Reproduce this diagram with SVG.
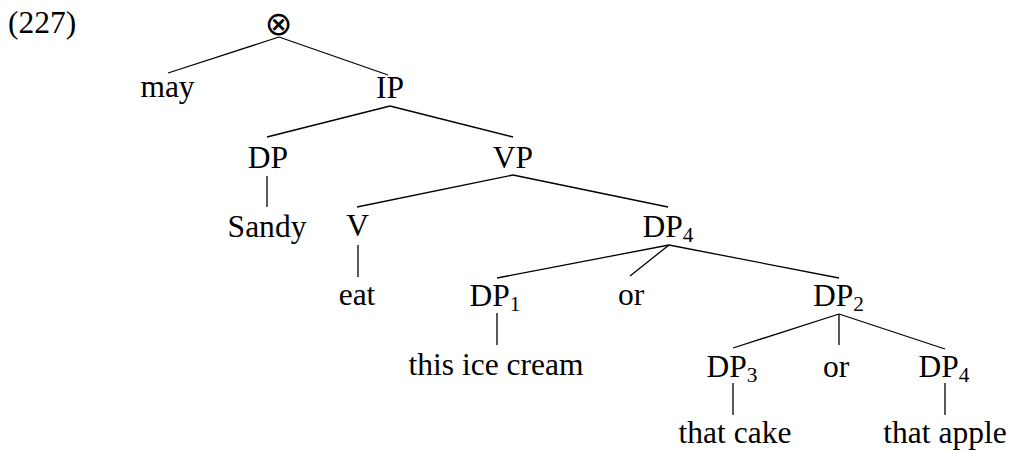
<svg xmlns="http://www.w3.org/2000/svg" width="1009" height="451" viewBox="0 0 1009 451">
<style>
text{font-family:"Liberation Serif","Times New Roman",serif;font-size:32.5px;fill:#000;text-anchor:middle}
.l{text-anchor:start}
.sub{font-size:22px}
.sym{font-family:"DejaVu Sans",sans-serif;font-size:33px}
#edges line{stroke:#000;stroke-width:1.3}
</style>
<rect width="1009" height="451" fill="#fff"/>
<g transform="translate(8,33) scale(0.97,1)"><text class="l" x="0" y="0">(227)</text></g>
<g id="edges">
<line x1="279" y1="37" x2="168" y2="73"/>
<line x1="279" y1="37" x2="388" y2="75"/>
<line x1="390" y1="106" x2="267" y2="137"/>
<line x1="390" y1="106" x2="513" y2="137"/>
<line x1="267" y1="176" x2="267" y2="207"/>
<line x1="513" y1="175" x2="357" y2="207"/>
<line x1="513" y1="175" x2="668" y2="207"/>
<line x1="358" y1="245" x2="358" y2="277"/>
<line x1="669" y1="245" x2="497" y2="278"/>
<line x1="669" y1="245" x2="630" y2="276"/>
<line x1="669" y1="245" x2="839" y2="278"/>
<line x1="497" y1="313" x2="497" y2="345"/>
<line x1="839" y1="314" x2="733" y2="348"/>
<line x1="839" y1="314" x2="839" y2="345"/>
<line x1="839" y1="314" x2="945" y2="349"/>
<line x1="733" y1="383" x2="733" y2="415"/>
<line x1="945" y1="383" x2="945" y2="415"/>
</g>
<g id="root"><text class="sym" x="278.5" y="35">⊗</text></g>
<g id="may" transform="translate(167.5,97) scale(0.97,1)"><text x="0" y="0">may</text></g>
<g id="IP" transform="translate(390,98) scale(0.97,1)"><text x="0" y="0">IP</text></g>
<g id="DP" transform="translate(268,168) scale(0.97,1)"><text x="0" y="0">DP</text></g>
<g id="VP" transform="translate(513,168) scale(0.97,1)"><text x="0" y="0">VP</text></g>
<g id="Sandy" transform="translate(267,237) scale(0.97,1)"><text x="0" y="0">Sandy</text></g>
<g id="V" transform="translate(357.5,236) scale(0.97,1)"><text x="0" y="0">V</text></g>
<g id="DP4a" transform="translate(668,237) scale(0.97,1)"><text x="0" y="0">DP<tspan class="sub" dy="5">4</tspan></text></g>
<g id="eat" transform="translate(357,305) scale(0.97,1)"><text x="0" y="0">eat</text></g>
<g id="DP1" transform="translate(495,306) scale(0.97,1)"><text x="0" y="0">DP<tspan class="sub" dy="5">1</tspan></text></g>
<g id="or1" transform="translate(631,305) scale(0.97,1)"><text x="0" y="0">or</text></g>
<g id="DP2" transform="translate(838.5,306) scale(0.97,1)"><text x="0" y="0">DP<tspan class="sub" dy="5">2</tspan></text></g>
<g id="icecream" transform="translate(496,375) scale(0.97,1)"><text x="0" y="0">this ice cream</text></g>
<g id="DP3" transform="translate(732,377) scale(0.97,1)"><text x="0" y="0">DP<tspan class="sub" dy="5">3</tspan></text></g>
<g id="or2" transform="translate(836,377) scale(0.97,1)"><text x="0" y="0">or</text></g>
<g id="DP4b" transform="translate(944,377) scale(0.97,1)"><text x="0" y="0">DP<tspan class="sub" dy="5">4</tspan></text></g>
<g id="cake" transform="translate(735,443) scale(0.97,1)"><text x="0" y="0">that cake</text></g>
<g id="apple" transform="translate(945,443) scale(0.97,1)"><text x="0" y="0">that apple</text></g>
</svg>
